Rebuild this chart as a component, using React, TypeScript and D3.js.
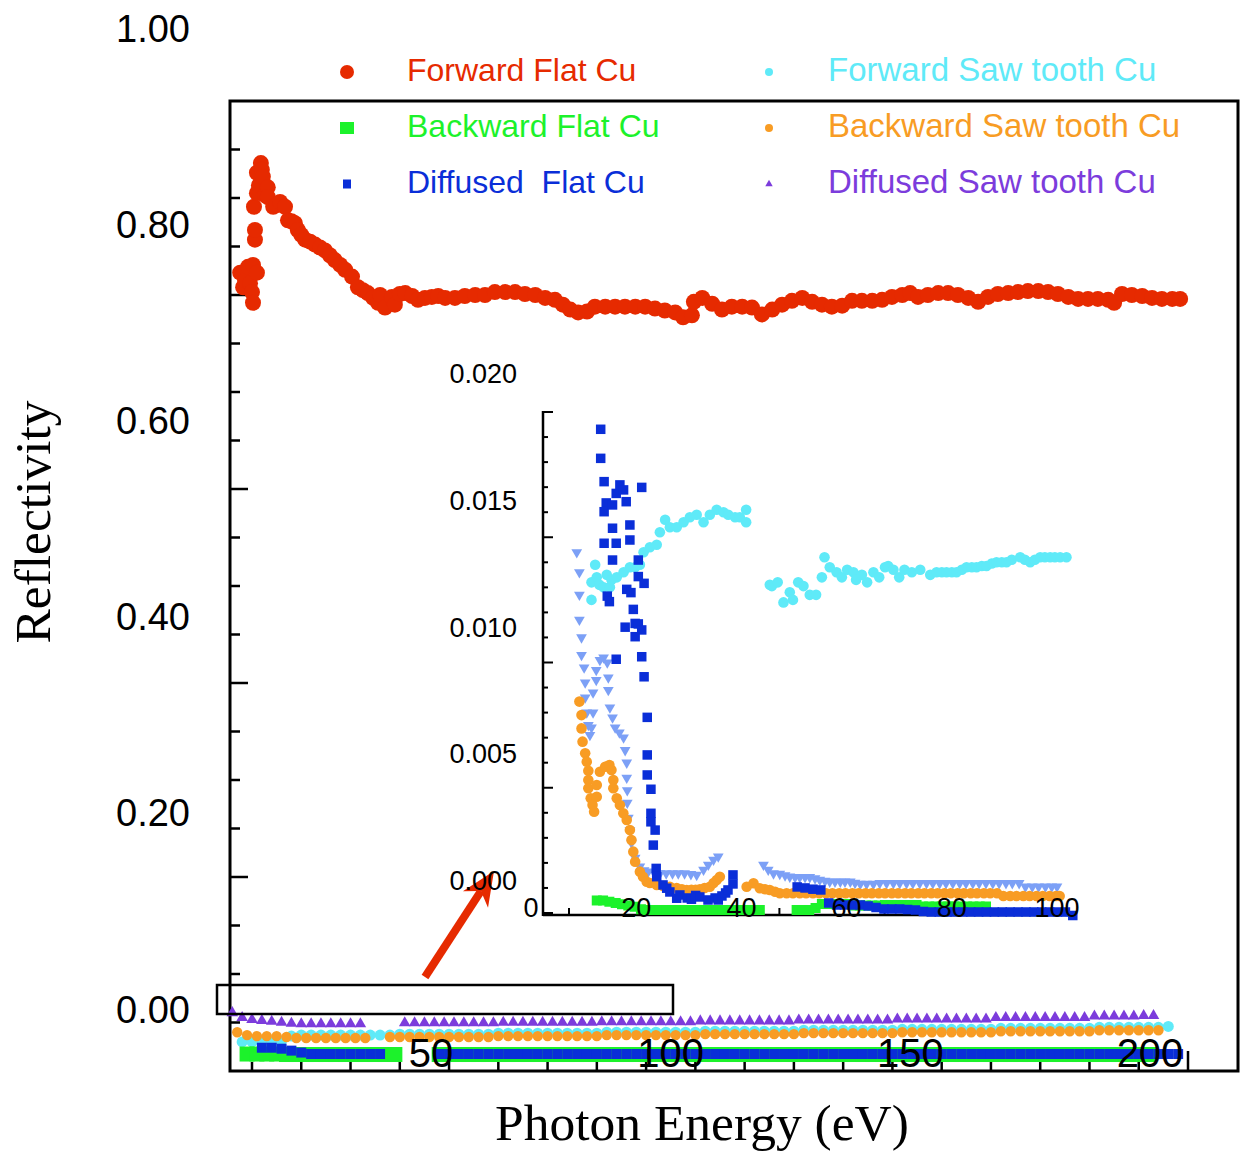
import React from "react";
import * as d3 from "d3";

type P = [number, number];

// ---------- main plot data: [photon energy (eV), reflectivity] ----------
const forwardFlatCu: P[] = [
  [7.6,0.823],[8.2,0.808],[8.6,0.815],[9.2,0.829],[9.6,0.812],[10.0,0.803],[10.2,0.792],[10.2,0.831],[11.0,0.823],
  [10.6,0.857],[10.6,0.867],[10.4,0.891],[11.0,0.905],[11.4,0.913],[11.0,0.926],[11.8,0.936],[12.0,0.929],[12.2,0.922],
  [12.6,0.903],[13.2,0.911],[13.2,0.901],[14.3,0.891],[15.0,0.893],[15.7,0.896],[16.7,0.891],[17.3,0.877],[18.0,0.876],
  [18.7,0.874],[19.3,0.867],[20.0,0.862],[20.8,0.857],[21.8,0.855],[22.8,0.852],[23.8,0.849],[24.8,0.846],[25.8,0.841],
  [26.8,0.836],[27.9,0.831],[28.9,0.826],[30.3,0.819],[31.5,0.808],[32.5,0.805],[33.5,0.802],[34.6,0.797],[35.6,0.792],
  [36.0,0.800],[37.0,0.787],[38.4,0.798],[39.0,0.790],[40.0,0.801],[41.1,0.802],[42.5,0.799],[43.7,0.795],[45.1,0.797],
  [46.5,0.798],[47.8,0.799],[49.2,0.797],
  [51.2,0.797],[53.2,0.799],[55.3,0.800],[57.3,0.800],[59.3,0.803],[61.4,0.803],[63.4,0.803],[65.4,0.801],[67.5,0.800],
  [69.5,0.797],[71.5,0.795],[73.1,0.790],[74.6,0.785],[76.2,0.782],[78.0,0.783],[79.6,0.788],[81.7,0.788],[83.7,0.788],
  [85.7,0.788],[87.8,0.788],[89.8,0.788],[91.8,0.786],[93.8,0.784],[95.9,0.782],[97.5,0.777],[99.3,0.779],[99.7,0.793],
  [101.4,0.797],[103.4,0.791],[105.4,0.785],[107.4,0.788],[109.5,0.788],[111.5,0.787],[113.5,0.780],[115.6,0.785],
  [117.6,0.790],[119.6,0.794],[121.7,0.797],[123.7,0.793],[125.7,0.790],[127.7,0.788],[129.8,0.789],[131.8,0.794],
  [133.8,0.794],[135.9,0.794],[137.9,0.795],[139.9,0.798],[142.0,0.800],[143.6,0.802],[145.2,0.798],[147.2,0.800],
  [149.3,0.802],[151.3,0.802],[153.3,0.800],[155.4,0.797],[157.4,0.793],[159.4,0.798],[161.4,0.801],[163.5,0.802],
  [165.5,0.803],[167.5,0.804],[169.6,0.804],[171.6,0.803],[173.6,0.801],[175.7,0.798],[177.7,0.796],[179.7,0.796],
  [181.7,0.796],[183.8,0.795],[185.0,0.792],[186.6,0.801],[188.6,0.800],[190.7,0.799],[192.7,0.797],[194.7,0.796],
  [196.8,0.796],[198.4,0.796]
];

const diffusedSawCu: P[] = [
  [6,0.060],[8,0.055],[10,0.053],[12,0.052],[14,0.051],[16,0.050],[18,0.049],[20,0.0485],[22,0.0485],[24,0.0485],
  [26,0.0485],[28,0.0485],[30,0.0485],[32,0.0485],
  [41,0.0495],[43,0.0495],[45,0.0495],[47,0.0495],[49,0.0495],[51,0.0495],[53,0.0495],[55,0.0495],[57,0.0495],[59,0.0495],
  [61,0.050],[63,0.050],[65,0.050],[67,0.050],[69,0.050],[71,0.050],[73,0.050],[75,0.050],[77,0.050],[79,0.050],
  [81,0.0505],[83,0.0505],[85,0.0505],[87,0.0505],[89,0.0505],[91,0.0505],[93,0.0505],[95,0.0505],[97,0.0505],[99,0.0505],
  [101,0.0515],[103,0.0515],[105,0.0515],[107,0.0515],[109,0.0515],[111,0.0515],[113,0.0515],[115,0.0515],[117,0.0515],[119,0.0515],
  [121,0.0525],[123,0.0525],[125,0.0525],[127,0.0525],[129,0.0525],[131,0.0525],[133,0.0525],[135,0.0525],[137,0.0525],[139,0.0525],
  [141,0.0535],[143,0.0535],[145,0.0535],[147,0.0535],[149,0.0535],[151,0.0535],[153,0.0535],[155,0.0535],[157,0.0535],[159,0.0535],
  [161,0.055],[163,0.055],[165,0.055],[167,0.055],[169,0.055],[171,0.055],[173,0.055],[175,0.055],[177,0.055],[179,0.055],
  [181,0.0565],[183,0.0565],[185,0.0565],[187,0.0565],[189,0.0565],[191,0.057],[193,0.057]
];

const forwardSawCu: P[] = [
  [8,0.030],[10,0.030],[12,0.030],[14,0.030],[16,0.031],[18,0.036],[20,0.037],[22,0.037],[24,0.037],[26,0.037],
  [28,0.037],[30,0.037],[32,0.037],[34,0.037],[36,0.037],[38,0.037],
  [40,0.038],[42,0.038],[44,0.038],[46,0.038],[48,0.038],[50,0.038],[52,0.038],[54,0.038],[56,0.038],[58,0.038],
  [60,0.039],[62,0.039],[64,0.039],[66,0.039],[68,0.039],[70,0.039],[72,0.039],[74,0.039],[76,0.039],[78,0.039],[80,0.039],
  [82,0.040],[84,0.040],[86,0.040],[88,0.040],[90,0.040],[92,0.040],[94,0.040],[96,0.040],[98,0.040],[100,0.040],
  [102,0.041],[104,0.041],[106,0.041],[108,0.041],[110,0.041],[112,0.041],[114,0.041],[116,0.041],[118,0.041],[120,0.041],
  [122,0.042],[124,0.042],[126,0.042],[128,0.042],[130,0.042],[132,0.042],[134,0.042],[136,0.042],[138,0.042],[140,0.042],
  [142,0.043],[144,0.043],[146,0.043],[148,0.043],[150,0.043],[152,0.043],[154,0.043],[156,0.043],[158,0.043],[160,0.043],
  [162,0.044],[164,0.044],[166,0.044],[168,0.044],[170,0.044],[172,0.044],[174,0.044],[176,0.044],[178,0.044],[180,0.044],
  [182,0.045],[184,0.045],[186,0.045],[188,0.045],[190,0.045],[192,0.045],[194,0.045],[196,0.046]
];

const backwardSawCu: P[] = [
  [7,0.040],[9,0.037],[11,0.036],[13,0.036],[15,0.036],[17,0.035],[19,0.034],[21,0.034],[23,0.034],[25,0.034],
  [27,0.034],[29,0.034],[31,0.034],[33,0.034],
  [38,0.035],[40,0.035],[42,0.035],[44,0.035],[46,0.035],[48,0.035],[50,0.035],[52,0.035],[54,0.035],[56,0.035],[58,0.035],
  [60,0.036],[62,0.036],[64,0.036],[66,0.036],[68,0.036],[70,0.036],[72,0.036],[74,0.036],[76,0.036],[78,0.036],[80,0.036],
  [82,0.037],[84,0.037],[86,0.037],[88,0.037],[90,0.037],[92,0.037],[94,0.037],[96,0.037],[98,0.037],[100,0.037],
  [102,0.038],[104,0.038],[106,0.038],[108,0.038],[110,0.038],[112,0.038],[114,0.038],[116,0.038],[118,0.038],[120,0.038],
  [122,0.039],[124,0.039],[126,0.039],[128,0.039],[130,0.039],[132,0.039],[134,0.039],[136,0.039],[138,0.039],[140,0.039],
  [142,0.040],[144,0.040],[146,0.040],[148,0.040],[150,0.040],[152,0.040],[154,0.040],[156,0.040],[158,0.040],[160,0.040],
  [162,0.041],[164,0.041],[166,0.041],[168,0.041],[170,0.041],[172,0.041],[174,0.041],[176,0.041],[178,0.041],[180,0.041],
  [182,0.042],[184,0.042],[186,0.042],[188,0.042],[190,0.042],[192,0.042],[194,0.042]
];

const backwardFlatCu: P[] = [
  [9,0.0175],[11,0.0175],[13,0.0175],[15,0.0175],[17,0.017],[19,0.017],[21,0.017],[23,0.017],[25,0.017],[27,0.017],
  [29,0.017],[31,0.017],[33,0.017],[35,0.017],[37,0.017],[39,0.017],
  [48,0.017],[50,0.017],[52,0.017],[54,0.017],[56,0.017],[58,0.017],[60,0.017],[62,0.017],[64,0.017],[66,0.017],
  [68,0.017],[70,0.017],[72,0.017],[74,0.017],[76,0.017],[78,0.017],[80,0.017],[82,0.017],[84,0.017],[86,0.017],
  [88,0.017],[90,0.017],[92,0.017],[94,0.017],[96,0.017],[98,0.017],[100,0.017],[102,0.017],[104,0.017],[106,0.017],
  [108,0.017],[110,0.017],[112,0.017],[114,0.017],[116,0.017],[118,0.017],[120,0.017],[122,0.017],[124,0.017],[126,0.017],
  [128,0.017],[130,0.017],[132,0.017],[134,0.017],[136,0.017],[138,0.017],[140,0.017],[142,0.017],[144,0.017],[146,0.017],
  [148,0.017],[150,0.017],[152,0.017],[154,0.017],[156,0.017],[158,0.017],[160,0.017],[162,0.017],[164,0.017],[166,0.017],
  [168,0.017],[170,0.017],[172,0.017],[174,0.017],[176,0.017],[178,0.017],[180,0.017],[182,0.017],[184,0.017],[186,0.017],
  [188,0.017],[190,0.017],[192,0.017]
];

const diffusedFlatCu: P[] = [
  [12,0.024],[14,0.024],[16,0.023],[18,0.021],[20,0.019],[22,0.0175],[24,0.0175],[26,0.0175],[28,0.0175],[30,0.0175],
  [32,0.0175],[34,0.0175],[36,0.0175],
  [48,0.0175],[50,0.0175],[52,0.0175],[54,0.0175],[56,0.0175],[58,0.0175],[60,0.0175],[62,0.0175],[64,0.0175],[66,0.0175],
  [68,0.0175],[70,0.0175],[72,0.0175],[74,0.0175],[76,0.0175],[78,0.0175],[80,0.0175],[82,0.0175],[84,0.0175],[86,0.0175],
  [88,0.0175],[90,0.0175],[92,0.0175],[94,0.0175],[96,0.0175],[98,0.0175],[100,0.0175],[102,0.0175],[104,0.0175],[106,0.0175],
  [108,0.0175],[110,0.0175],[112,0.0175],[114,0.0175],[116,0.0175],[118,0.0175],[120,0.0175],[122,0.0175],[124,0.0175],[126,0.0175],
  [128,0.0175],[130,0.0175],[132,0.0175],[134,0.0175],[136,0.0175],[138,0.0175],[140,0.0175],[142,0.0175],[144,0.0175],[146,0.0175],
  [148,0.0175],[150,0.0175],[152,0.0175],[154,0.0175],[156,0.0175],[158,0.0175],[160,0.0175],[162,0.0175],[164,0.0175],[166,0.0175],
  [168,0.0175],[170,0.0175],[172,0.0175],[174,0.0175],[176,0.0175],[178,0.0175],[180,0.0175],[182,0.0175],[184,0.0175],[186,0.0175],
  [188,0.0175],[190,0.0175],[192,0.0175],[194,0.0175],[196,0.0175],[198,0.0175]
];

// ---------- inset data: [photon energy (eV), reflectivity x 10^-3] ----------
const insetForwardSaw: P[] = [
  [11.5,12.5],[12.2,13.9],[11.5,13.2],[12.5,13.4],[13.0,13.1],[13.8,13.0],[14.4,13.5],[15.0,13.0],[15.3,13.3],[16.3,13.4],
  [17.6,13.6],[18.8,13.8],[19.8,13.8],[20.7,13.9],[21.4,14.4],[22.6,14.6],[23.9,14.7],[24.5,15.2],[25.5,15.7],[26.4,15.4],
  [27.7,15.4],[29.0,15.6],[30.2,15.8],[31.5,15.9],[32.8,15.6],[34.0,15.9],[35.3,16.1],[36.6,16.0],[37.5,15.9],[38.8,15.8],
  [39.7,15.8],[40.9,16.1],[40.9,15.6],
  [45.4,13.1],[45.8,13.05],[46.9,13.2],[48.0,12.4],[49.2,12.8],[49.8,12.5],[50.8,13.2],[51.8,13.05],[53.0,12.7],[54.2,12.7],
  [55.3,13.4],[55.8,14.2],[56.8,13.8],[58.1,13.6],[59.1,13.4],[60.1,13.7],[61.3,13.6],[61.8,13.3],[62.9,13.5],[63.9,13.2],
  [65.1,13.6],[66.2,13.4],[67.3,13.8],[67.9,13.85],[68.9,13.7],[70.0,13.4],[71.0,13.7],[72.4,13.6],[74.0,13.7],[75.9,13.5],
  [77.1,13.6],[78.1,13.6],[79.0,13.6],[80.0,13.6],[80.9,13.6],[81.9,13.7],[82.8,13.8],[83.8,13.8],[84.7,13.8],[85.7,13.85],
  [86.6,13.85],[87.6,13.95],[88.5,14.0],[89.5,14.0],[90.4,14.0],[91.4,14.1],[93.0,14.2],[93.9,14.1],[94.9,14.0],[95.8,14.1],
  [96.8,14.2],[97.7,14.2],[98.7,14.2],[99.6,14.2],[100.6,14.2],[101.8,14.2]
];

const insetDiffusedSaw: P[] = [
  [8.7,14.4],[9.2,13.6],[9.2,12.7],[9.2,11.7],[9.6,11.0],[9.6,10.3],[10.1,9.8],[10.3,9.2],[10.3,8.6],[10.6,8.0],
  [10.9,7.5],[11.2,7.1],[11.5,7.4],[11.8,8.0],[11.8,8.8],[12.4,9.3],[12.4,9.7],[13.1,10.1],[13.8,10.2],[14.5,10.0],
  [14.7,9.4],[14.7,8.9],[15.0,8.2],[15.5,7.8],[16.0,7.4],[16.8,7.2],[17.6,7.0],[17.9,6.5],[18.2,6.0],[18.2,5.4],
  [18.3,4.9],[18.3,4.4],[18.5,3.8],[18.8,3.3],[19.1,2.8],[19.8,2.2],[20.7,1.85],[21.5,1.7],[22.3,1.65],[23.4,1.6],
  [24.5,1.58],[25.7,1.58],[26.9,1.58],[28.0,1.58],[29.2,1.58],[30.4,1.55],[31.5,1.52],[32.8,1.72],[33.7,1.92],[34.7,2.12],
  [35.6,2.25],
  [44.2,1.92],[45.1,1.72],[46.1,1.58],[47.3,1.56],[48.3,1.5],[49.2,1.45],[50.2,1.43],[51.1,1.43],[52.1,1.43],[53.0,1.43],
  [54.0,1.38],[54.9,1.32],[55.9,1.28],[56.8,1.25],[57.8,1.25],[58.8,1.25],[59.7,1.25],[60.7,1.25],[61.6,1.2],[62.6,1.16],
  [63.8,1.16],[65.1,1.16],[66.3,1.19],[67.6,1.19],[68.9,1.19],[70.1,1.19],[71.4,1.19],[72.6,1.19],[73.9,1.19],[75.2,1.19],
  [76.4,1.19],[77.7,1.19],[78.9,1.19],[80.2,1.19],[81.5,1.19],[82.7,1.19],[84.0,1.19],[85.2,1.19],[86.5,1.19],[87.8,1.19],
  [89.0,1.19],[90.3,1.19],[91.5,1.19],[92.8,1.19],[94.0,1.05],[95.3,1.05],[96.5,1.05],[97.8,1.05],[99.0,1.05],[100.0,1.05]
];

const insetBackwardSaw: P[] = [
  [9.2,8.44],[9.6,7.9],[9.6,7.37],[9.8,6.84],[10.3,6.38],[10.6,6.04],[10.9,5.68],[10.9,5.31],[10.9,4.98],[11.35,4.58],
  [11.7,4.31],[12.0,4.04],[12.5,4.64],[12.5,5.11],[13.1,5.64],[14.1,5.84],[14.9,5.91],[15.3,5.71],[15.65,5.31],[15.65,4.98],
  [16.3,4.58],[16.9,4.31],[17.55,3.98],[18.2,3.71],[18.8,3.31],[19.1,2.91],[19.45,2.45],[19.8,2.05],[20.7,1.65],[21.3,1.45],
  [22.0,1.25],[22.6,1.2],[23.9,1.12],[25.1,1.08],[26.4,1.05],[27.7,1.0],[28.7,0.95],[29.6,0.92],[30.5,0.93],[31.3,0.93],
  [32.1,0.95],[33.0,1.0],[34.0,1.05],[34.7,1.2],[35.3,1.32],[35.9,1.45],
  [41.0,1.05],[42.3,1.19],[43.5,0.99],[44.5,0.95],[45.4,0.92],[46.4,0.85],[47.3,0.79],[48.6,0.79],[49.8,0.79],[51.1,0.79],
  [52.3,0.79],[53.6,0.79],[54.8,0.79],[56.1,0.79],[57.3,0.79],[58.6,0.79],[59.8,0.79],[61.1,0.79],[62.3,0.79],[63.6,0.79],
  [64.8,0.79],[66.1,0.79],[67.3,0.79],[68.6,0.79],[69.8,0.79],[71.1,0.79],[72.3,0.79],[73.6,0.79],[74.8,0.79],[76.1,0.79],
  [77.3,0.79],[78.6,0.79],[79.8,0.79],[81.1,0.79],[82.3,0.79],[83.6,0.79],[84.8,0.79],[86.1,0.79],[87.3,0.79],[88.6,0.79],
  [89.8,0.68],[91.1,0.68],[92.3,0.68],[93.6,0.68],[94.8,0.68],[96.1,0.68],[97.3,0.68],[98.6,0.68],[99.8,0.68],[100.5,0.68]
];

const insetBackwardFlat: P[] = [
  [12.5,0.5],[13.7,0.5],[14.9,0.45],[16.1,0.4],[17.3,0.35],[18.5,0.3],[19.7,0.25],[20.9,0.15],[22.1,0.12],[23.3,0.12],
  [24.5,0.12],[25.7,0.12],[26.9,0.12],[28.1,0.12],[29.3,0.12],[30.5,0.12],[31.7,0.12],[32.9,0.12],[34.1,0.12],[35.3,0.12],
  [36.5,0.12],[37.7,0.12],[38.9,0.12],[40.1,0.12],[41.3,0.12],[42.5,0.12],[43.5,0.12],
  [50.5,0.12],[51.7,0.12],[52.9,0.12],[54.1,0.2],[55.3,0.36],[56.5,0.36],[57.7,0.36],[58.9,0.36],[60.1,0.36],[61.3,0.3],
  [62.5,0.3],[63.7,0.3],[64.9,0.3],[66.1,0.3],[67.3,0.32],[68.5,0.32],[69.7,0.32],[70.9,0.32],[72.1,0.32],[73.3,0.32],
  [74.5,0.26],[75.7,0.26],[76.9,0.26],[78.1,0.26],[79.3,0.26],[80.5,0.26],[81.7,0.26],[82.9,0.26],[84.1,0.26],[85.3,0.26],
  [86.5,0.26]
];

const insetDiffusedFlat: P[] = [
  [13.25,19.31],[13.25,18.15],[13.9,17.22],[14.3,16.37],[13.9,16.02],[15.5,16.29],[16.2,16.75],[16.9,17.09],[17.6,16.89],
  [18.1,16.42],[21.05,16.99],[13.9,14.76],[15.5,15.36],[16.2,14.76],[15.5,14.09],[18.8,15.49],[18.8,14.89],[20.4,14.09],
  [20.4,13.43],[21.5,13.16],[14.5,12.65],[14.9,12.43],[18.2,12.92],[19.0,12.79],[19.45,12.12],[17.9,11.41],[19.8,11.56],
  [20.4,11.54],[21.05,11.30],[19.8,11.03],[16.2,10.13],[21.05,10.23],[21.5,9.43],[22.1,7.81],[22.1,6.31],[22.1,5.51],
  [22.8,4.94],[22.8,3.98],[22.8,3.64],[23.6,3.31],[23.25,2.71],[23.8,1.78],[23.9,1.45],[25.1,1.12],[25.8,0.99],[26.4,0.84],
  [27.7,0.59],[28.3,0.72],[29.7,0.6],[30.5,0.55],[31.3,0.7],[32.1,0.64],[33.65,0.52],[35.0,0.6],[35.6,0.52],[36.3,0.68],
  [37.0,0.8],[37.45,0.92],[38.4,1.16],[38.4,1.52],
  [50.6,1.04],[52.1,1.0],[53.6,0.95],[55.1,0.92],[56.6,0.4],[58.1,0.32],[59.6,0.32],[61.1,0.32],[62.6,0.32],[64.1,0.28],
  [65.6,0.22],[67.1,0.16],[68.6,0.16],[70.1,0.16],[71.6,0.14],[73.1,0.12],[74.6,0.06],[76.1,0.04],[77.6,0.04],[79.1,0.04],
  [80.6,0.04],[82.1,0.04],[83.6,0.04],[85.1,0.04],[86.6,0.04],[88.1,0.04],[89.6,0.04],[91.1,0.04],[92.6,0.04],[94.1,0.04],
  [95.6,0.04],[97.1,0.04],[98.6,0.04],[100.1,0.04],[101.6,0.04],[103.0,-0.1]
];

// ---------- labels ----------
const mainYLabels = [0, 0.2, 0.4, 0.6, 0.8, 1.0];
const mainXLabels = [50, 100, 150, 200];
const mainYTicks = d3.range(1, 20).map((i) => i * 0.05);
const mainXTicks = d3.range(10, 201, 10);
const insetYLabels = [0, 5, 10, 15, 20]; // x 10^-3
const insetXLabels = [0, 20, 40, 60, 80, 100];
const insetYTicks = d3.range(0, 21);
const insetXTicks = [0, 20, 40, 60, 80];

const legendNames = [
  "Forward Flat Cu", "Backward Flat Cu", "Diffused  Flat Cu",
  "Forward Saw tooth Cu", "Backward Saw tooth Cu", "Diffused Saw tooth Cu",
];

const C = {
  red: "#e62a00",
  green: "#1cf22b",
  blue: "#0a2ed8",
  cyan: "#5feaf8",
  orange: "#f89c24",
  purple: "#7c3cdc",
  light: "#7ca0f6",
};

const SANS = "'Liberation Sans', Arial, Helvetica, sans-serif";
const SERIF = "'Liberation Serif', 'Times New Roman', serif";

export default function App() {
  // main plot scales
  const x = d3.scaleLinear().domain([10, 200]).range([252, 1188]);
  const y = d3.scaleLinear().domain([0, 1]).range([1071, 101]);
  const xLab = d3.scaleLinear().domain([50, 200]).range([431, 1150]);
  const yLab = d3.scaleLinear().domain([0, 1]).range([1009, 28]);
  // inset scales
  const xi = d3.scaleLinear().domain([0, 100]).range([531, 1057]);
  const yi = d3.scaleLinear().domain([0, 20]).range([913, 412]);
  const yiLab = d3.scaleLinear().domain([0, 20]).range([880, 373]);
  const xiTick = d3.scaleLinear().domain([0, 100]).range([569, 1095]);

  const triUp = (s: number) => d3.symbol().type(d3.symbolTriangle).size(s)()!;

  const circles = (data: P[], sx: any, sy: any, r: number, color: string, key: string) =>
    data.map((d, i) => <circle key={key + i} cx={sx(d[0])} cy={sy(d[1])} r={r} fill={color} />);
  const squares = (data: P[], sx: any, sy: any, s: number, color: string, key: string) =>
    data.map((d, i) => (
      <rect key={key + i} x={sx(d[0]) - s / 2} y={sy(d[1]) - s / 2} width={s} height={s} fill={color} />
    ));
  const tris = (data: P[], sx: any, sy: any, s: number, color: string, key: string, down = false) => {
    const p = triUp(s);
    return data.map((d, i) => (
      <path key={key + i} d={p} fill={color}
        transform={`translate(${sx(d[0])},${sy(d[1])})${down ? " rotate(180)" : ""}`} />
    ));
  };

  // arrow geometry (annotation)
  const tail = [425, 977], tip = [494, 871];
  const len = Math.hypot(tip[0] - tail[0], tip[1] - tail[1]);
  const u = [(tip[0] - tail[0]) / len, (tip[1] - tail[1]) / len];
  const n = [-u[1], u[0]];
  const headL = 34, headW = 15, notch = 24;
  const bc = [tip[0] - headL * u[0], tip[1] - headL * u[1]];
  const nc = [tip[0] - notch * u[0], tip[1] - notch * u[1]];
  const head = [
    tip,
    [bc[0] + headW * n[0], bc[1] + headW * n[1]],
    nc,
    [bc[0] - headW * n[0], bc[1] - headW * n[1]],
  ].map((p) => p.join(",")).join(" ");

  const legendCols = [347, 769];
  const legendTextX = [407, 828];
  const legendFont = [32, 33];
  const legendRows = [72, 128, 184];
  const legendColors = [C.red, C.green, C.blue, C.cyan, C.orange, C.purple];

  return (
    <svg width={1242} height={1155} style={{ position: "absolute", left: 0, top: 0, background: "#fff" }}>
      <rect x={0} y={0} width={1242} height={1155} fill="#fff" />

      {/* main frame */}
      <rect x={230} y={101} width={1008} height={970} fill="none" stroke="#000" strokeWidth={3} />

      {/* main y ticks */}
      {mainYTicks.map((v, i) => {
        const major = Math.round(v * 100) % 20 === 0;
        return <line key={"yt" + i} x1={230} x2={230 + (major ? 18 : 10)} y1={y(v)} y2={y(v)} stroke="#000" strokeWidth={2.5} />;
      })}
      {/* main x ticks */}
      {mainXTicks.map((v, i) => (
        <line key={"xt" + i} x1={x(v)} x2={x(v)} y1={1071} y2={1071 - (v === 200 ? 20 : 9)} stroke="#000" strokeWidth={2.5} />
      ))}

      {/* main y labels */}
      {mainYLabels.map((v) => (
        <text key={"yl" + v} x={190} y={yLab(v) + 13.5} textAnchor="end" fontFamily={SANS} fontSize={38} fill="#000">
          {v.toFixed(2)}
        </text>
      ))}

      {/* main series */}
      {circles(forwardFlatCu, x, y, 8, C.red, "ff")}
      {tris(diffusedSawCu, x, y, 58, C.purple, "ds")}
      {circles(forwardSawCu, x, y, 5.5, C.cyan, "fs")}
      {circles(backwardSawCu, x, y, 5.2, C.orange, "bs")}
      {squares(backwardFlatCu, x, y, 15, C.green, "bf")}
      {squares(diffusedFlatCu, x, y, 10, C.blue, "df")}

      {/* main x labels (over data) */}
      {mainXLabels.map((v) => (
        <text key={"xl" + v} x={xLab(v)} y={1067} textAnchor="middle" fontFamily={SANS} fontSize={40} fill="#000">
          {v}
        </text>
      ))}

      {/* zoom box */}
      <rect x={217} y={985} width={456} height={29} fill="none" stroke="#000" strokeWidth={2.5} />

      {/* arrow */}
      <line x1={tail[0]} y1={tail[1]} x2={nc[0]} y2={nc[1]} stroke={C.red} strokeWidth={8} />
      <polygon points={head} fill={C.red} />

      {/* inset axes */}
      <line x1={543} x2={543} y1={411} y2={916} stroke="#000" strokeWidth={2.5} />
      <line x1={543} x2={1075} y1={915} y2={915} stroke="#000" strokeWidth={2.5} />
      {insetYTicks.map((v) => (
        <line key={"iyt" + v} x1={543} x2={543 + (v % 5 === 0 ? 10 : 5)} y1={yi(v)} y2={yi(v)} stroke="#000" strokeWidth={2} />
      ))}
      {insetXTicks.map((v) => (
        <line key={"ixt" + v} x1={xiTick(v)} x2={xiTick(v)} y1={915} y2={908} stroke="#000" strokeWidth={2} />
      ))}
      {insetYLabels.map((v) => (
        <text key={"iyl" + v} x={517} y={yiLab(v) + 10} textAnchor="end" fontFamily={SANS} fontSize={27} fill="#000">
          {(v / 1000).toFixed(3)}
        </text>
      ))}

      {/* inset series */}
      {circles(insetForwardSaw, xi, yi, 5.3, C.cyan, "ifs")}
      {tris(insetDiffusedSaw, xi, yi, 50, C.light, "ids", true)}
      {circles(insetBackwardSaw, xi, yi, 5.3, C.orange, "ibs")}
      {squares(insetBackwardFlat, xi, yi, 10, C.green, "ibf")}
      {squares(insetDiffusedFlat, xi, yi, 9.5, C.blue, "idf")}

      {insetXLabels.map((v) => (
        <text key={"ixl" + v} x={xi(v)} y={917} textAnchor="middle" fontFamily={SANS} fontSize={27} fill="#000">
          {v}
        </text>
      ))}

      {/* legend */}
      {legendNames.map((name, i) => {
        const col = Math.floor(i / 3), row = i % 3;
        const cx = legendCols[col], cy = legendRows[row];
        const color = legendColors[i];
        let marker: React.ReactNode = null;
        if (i === 0) marker = <circle cx={cx} cy={cy} r={7} fill={color} />;
        else if (i === 1) marker = <rect x={cx - 7} y={cy - 6} width={14} height={12} fill={color} />;
        else if (i === 2) marker = <rect x={cx - 4} y={cy - 4.5} width={8} height={9} fill={color} />;
        else if (i === 3 || i === 4) marker = <circle cx={cx} cy={cy} r={4} fill={color} />;
        else marker = <path d={triUp(24)} transform={`translate(${cx},${cy})`} fill={color} />;
        return (
          <g key={"lg" + i}>
            {marker}
            <text x={legendTextX[col]} y={cy + 9} fontFamily={SANS} fontSize={legendFont[col]} fill={color} style={{ whiteSpace: "pre" }}>
              {name}
            </text>
          </g>
        );
      })}

      {/* axis titles */}
      <text x={702} y={1140} textAnchor="middle" fontFamily={SERIF} fontSize={51.5} fill="#000">
        Photon Energy (eV)
      </text>
      <text transform="translate(50,522) rotate(-90)" textAnchor="middle" fontFamily={SERIF} fontSize={51.5} fill="#000">
        Reflectivity
      </text>
    </svg>
  );
}
